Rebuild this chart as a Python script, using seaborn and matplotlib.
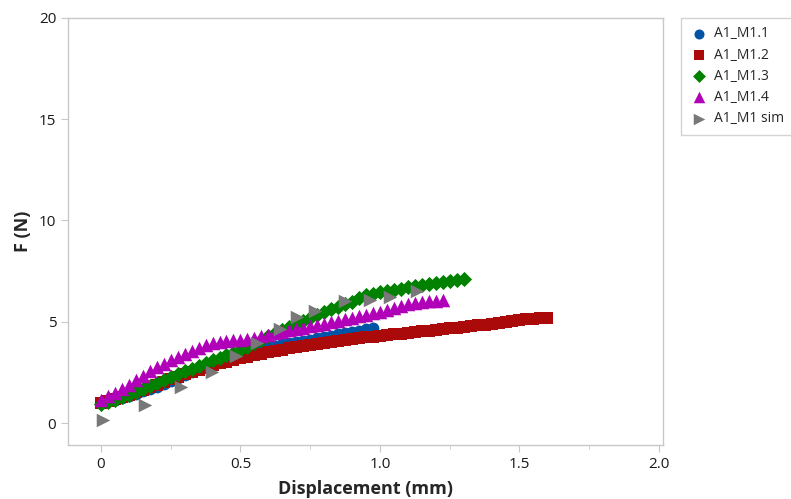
import pandas as pd
import matplotlib.pyplot as plt
import seaborn as sns

# displacement (mm) / force (N) readings for each run
m1_x = [0, .025, .05, .075, .1, .125, .15, .175, .2, .225, .25, .275, .3, .325, .35, .375, .4, .425, .45, .475,
        .5, .525, .55, .575, .6, .625, .65, .675, .7, .725, .75, .775, .8, .825, .85, .875, .9, .925, .95, .975]
m1_f = [1.00, 1.08, 1.16, 1.25, 1.35, 1.45, 1.56, 1.68, 1.80, 1.93, 2.07, 2.21, 2.35, 2.50, 2.65, 2.80, 2.95, 3.08, 3.21, 3.34,
        3.45, 3.54, 3.62, 3.69, 3.75, 3.81, 3.88, 3.94, 4.00, 4.06, 4.12, 4.19, 4.25, 4.31, 4.38, 4.44, 4.50, 4.56, 4.62, 4.70]

m2_x = [0, .025, .05, .075, .1, .125, .15, .175, .2, .225, .25, .275, .3, .325, .35, .375, .4, .425, .45, .475,
        .5, .525, .55, .575, .6, .625, .65, .675, .7, .725, .75, .775, .8, .825, .85, .875, .9, .925, .95, .975,
        1.0, 1.025, 1.05, 1.075, 1.1, 1.125, 1.15, 1.175, 1.2, 1.225, 1.25, 1.275, 1.3, 1.325, 1.35, 1.375,
        1.4, 1.425, 1.45, 1.475, 1.5, 1.525, 1.55, 1.575, 1.6]
m2_f = [1.00, 1.10, 1.20, 1.30, 1.40, 1.52, 1.65, 1.77, 1.90, 2.02, 2.15, 2.27, 2.40, 2.51, 2.63, 2.74, 2.85, 2.94, 3.03, 3.12,
        3.20, 3.28, 3.35, 3.43, 3.50, 3.56, 3.63, 3.69, 3.75, 3.80, 3.85, 3.90, 3.95, 4.00, 4.05, 4.10, 4.15, 4.19, 4.23, 4.26,
        4.30, 4.34, 4.38, 4.41, 4.45, 4.49, 4.53, 4.56, 4.60, 4.64, 4.68, 4.71, 4.75, 4.79, 4.83, 4.86,
        4.90, 4.95, 5.00, 5.05, 5.10, 5.13, 5.16, 5.19, 5.20]

m3_x = [0, .025, .05, .075, .1, .125, .15, .175, .2, .225, .25, .275, .3, .325, .35, .375, .4, .425, .45, .475,
        .5, .525, .55, .575, .6, .625, .65, .675, .7, .725, .75, .775, .8, .825, .85, .875, .9, .925, .95, .975,
        1.0, 1.025, 1.05, 1.075, 1.1, 1.125, 1.15, 1.175, 1.2, 1.225, 1.25, 1.275, 1.3]
m3_f = [0.95, 1.05, 1.16, 1.28, 1.40, 1.55, 1.70, 1.85, 2.00, 2.14, 2.28, 2.41, 2.55, 2.69, 2.83, 2.96, 3.10, 3.23, 3.35, 3.48,
        3.60, 3.77, 3.95, 4.12, 4.30, 4.45, 4.60, 4.75, 4.90, 5.05, 5.20, 5.35, 5.50, 5.63, 5.75, 5.88, 6.00, 6.15, 6.30, 6.38,
        6.45, 6.51, 6.57, 6.64, 6.70, 6.75, 6.80, 6.85, 6.90, 6.95, 7.00, 7.05, 7.10]

m4_x = [0, .025, .05, .075, .1, .125, .15, .175, .2, .225, .25, .275, .3, .325, .35, .375, .4, .425, .45, .475,
        .5, .525, .55, .575, .6, .625, .65, .675, .7, .725, .75, .775, .8, .825, .85, .875, .9, .925, .95, .975,
        1.0, 1.025, 1.05, 1.075, 1.1, 1.125, 1.15, 1.175, 1.2, 1.225]
m4_f = [1.15, 1.32, 1.50, 1.70, 1.90, 2.12, 2.33, 2.55, 2.75, 2.92, 3.10, 3.25, 3.40, 3.55, 3.70, 3.83, 3.95, 4.00, 4.05, 4.08,
        4.10, 4.15, 4.20, 4.28, 4.35, 4.43, 4.50, 4.58, 4.65, 4.71, 4.78, 4.84, 4.90, 4.98, 5.05, 5.13, 5.20, 5.28, 5.35, 5.43,
        5.50, 5.60, 5.70, 5.80, 5.90, 5.95, 6.00, 6.02, 6.04, 6.05]

sim_x = [0.007, 0.158, 0.287, 0.398, 0.484, 0.559, 0.642, 0.703, 0.767, 0.875, 0.964, 1.036, 1.133]
sim_f = [0.15, 0.89, 1.78, 2.52, 3.31, 3.95, 4.64, 5.23, 5.53, 6.02, 6.07, 6.22, 6.52]

names = ['A1_M1.1', 'A1_M1.2', 'A1_M1.3', 'A1_M1.4', 'A1_M1 sim']
xs = [m1_x, m2_x, m3_x, m4_x, sim_x]
fs = [m1_f, m2_f, m3_f, m4_f, sim_f]

colors = ['#0054a6', '#aa0a0a', '#008200', '#b000b8', '#787878']
markers = ['o', 's', 'D', '^', '>']
sizes = [72, 64, 60, 95, 95]

sns.set_style('white')
plt.rcParams['font.family'] = ['Open Sans', 'DejaVu Sans']

fig = plt.figure(figsize=(7.91, 4.99), dpi=100)
ax = fig.add_axes([0.086, 0.108, 0.752, 0.856])

for x, f, n, c, m, s in zip(xs, fs, names, colors, markers, sizes):
    sns.scatterplot(x=x, y=f, color=c, marker=m, s=s, linewidth=0, label=n, ax=ax)

ax.set_xlim(-0.118, 2.014)
ax.set_ylim(-1.09, 20)
ax.set_xticks([0, 0.5, 1.0, 1.5, 2.0])
ax.set_xticklabels(['0', '0.5', '1.0', '1.5', '2.0'])
ax.set_xticks([0.25, 0.75, 1.25, 1.75], minor=True)
ax.set_yticks([0, 5, 10, 15, 20])
ax.set_yticklabels(['0', '5', '10', '15', '20'])

for sp in ax.spines.values():
    sp.set_color('#c8c8c8')
    sp.set_linewidth(1)
ax.tick_params(which='both', direction='out', color='#c8c8c8', labelsize=11, labelcolor='#1a1a1a')
ax.tick_params(which='major', length=5, bottom=True, left=True)
ax.tick_params(which='minor', length=3, bottom=True)

ax.set_xlabel('Displacement (mm)', fontsize=13, fontweight='bold', labelpad=6)
ax.set_ylabel('F (N)', fontsize=13, fontweight='bold', labelpad=5)

leg = ax.legend(loc='upper left', bbox_to_anchor=(681 / 791, 1 - 18 / 499), bbox_transform=fig.transFigure,
                borderaxespad=0, fontsize=10, frameon=True, fancybox=False, markerscale=0.85,
                handletextpad=0.4, borderpad=0.6, labelspacing=0.45, handlelength=1.4)
leg.get_frame().set_edgecolor('#c8c8c8')
leg.get_frame().set_linewidth(1)

fig.savefig('out.png', dpi=100)
